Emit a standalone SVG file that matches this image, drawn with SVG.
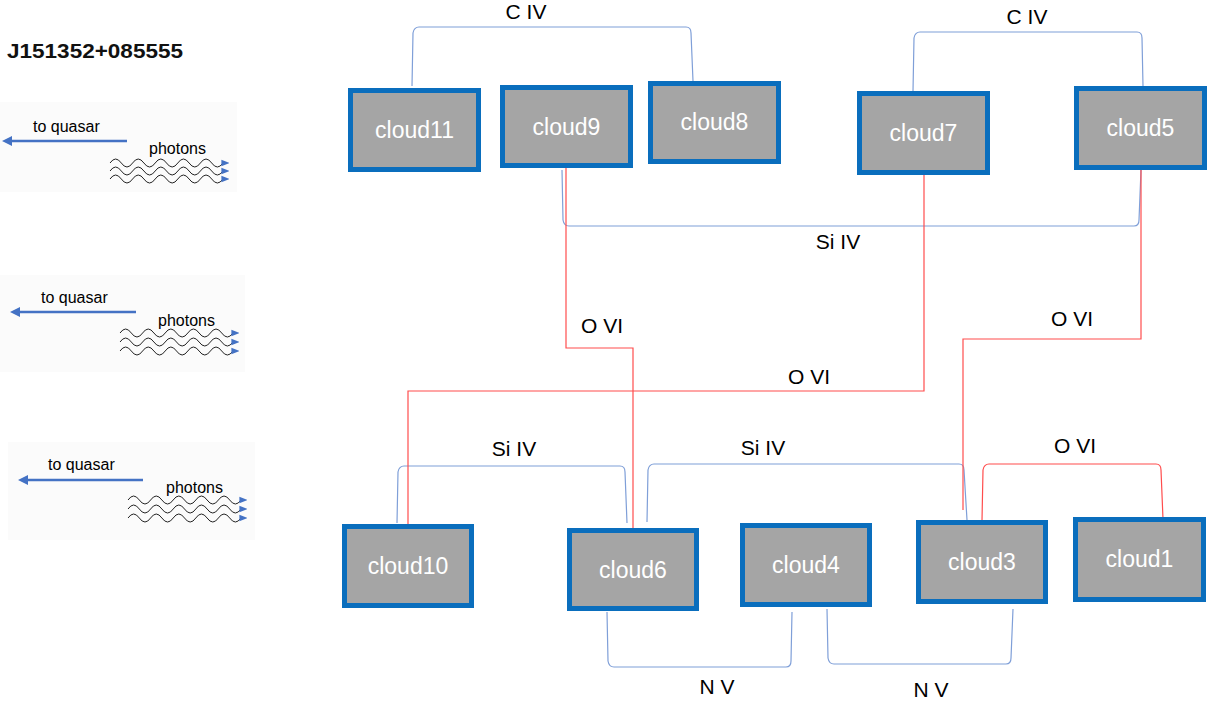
<svg xmlns="http://www.w3.org/2000/svg" width="1218" height="705" viewBox="0 0 1218 705">
  <style>
    .box { fill: #a5a5a5; stroke: #0a6ebd; stroke-width: 5; }
    .name { font-family: "Liberation Sans", Arial, sans-serif; font-size: 23px; fill: #ffffff; text-anchor: middle; }
    .ion { font-family: "Liberation Sans", Arial, sans-serif; font-size: 21px; fill: #000000; text-anchor: middle; }
    .small { font-family: "Liberation Sans", Arial, sans-serif; font-size: 16px; fill: #000000; }
    .blue { fill: none; stroke: #7f9fd8; stroke-width: 1.2; }
    .red { fill: none; stroke: #ff4d4d; stroke-width: 1.2; }
    .wave { fill: none; stroke: #222222; stroke-width: 1; }
    .panel { fill: #fbfbfb; }
    .toq { stroke: #4472c4; stroke-width: 2.5; marker-end: url(#leftHead); }
  </style>
  <defs>
    <marker id="leftHead" viewBox="0 0 10 10" refX="2" refY="5" markerWidth="4" markerHeight="4" orient="auto" markerUnits="strokeWidth">
      <path d="M0,0 L10,5 L0,10 Z" fill="#4472c4"/>
    </marker>
    <marker id="waveHead" viewBox="0 0 10 10" refX="2" refY="5" markerWidth="8" markerHeight="8" orient="0" markerUnits="userSpaceOnUse">
      <path d="M0,1 L10,5 L0,9 Z" fill="#4472c4"/>
    </marker>
    <!-- one photon wave, five periods -->
    <path id="wave" d="M0,0 q5.6,-8 11.3,0 t11.3,0 t11.3,0 t11.3,0 t11.3,0 t11.3,0 t11.3,0 t11.3,0 t11.3,0 t11.3,0" class="wave" marker-end="url(#waveHead)"/>
  </defs>

  <rect width="1218" height="705" fill="#ffffff"/>

  <!-- title -->
  <text x="7" y="58" font-family="'Liberation Sans', Arial, sans-serif" font-size="21" font-weight="bold" fill="#111111" textLength="176" lengthAdjust="spacingAndGlyphs">J151352+085555</text>

  <!-- sight-line legends -->
  <g id="legend1">
    <rect class="panel" x="0" y="102" width="237" height="90"/>
    <text class="small" x="33" y="132">to quasar</text>
    <line class="toq" x1="127" y1="141" x2="10" y2="141"/>
    <text class="small" x="149" y="154">photons</text>
    <use href="#wave" x="110" y="163"/>
    <use href="#wave" x="110" y="171"/>
    <use href="#wave" x="110" y="179"/>
  </g>
  <g id="legend2">
    <rect class="panel" x="0" y="275" width="245" height="97"/>
    <text class="small" x="41" y="303">to quasar</text>
    <line class="toq" x1="136" y1="312" x2="18" y2="312"/>
    <text class="small" x="158" y="326">photons</text>
    <use href="#wave" x="120" y="333"/>
    <use href="#wave" x="120" y="342"/>
    <use href="#wave" x="120" y="351"/>
  </g>
  <g id="legend3">
    <rect class="panel" x="8" y="442" width="247" height="98"/>
    <text class="small" x="48" y="470">to quasar</text>
    <line class="toq" x1="143" y1="480" x2="26" y2="480"/>
    <text class="small" x="166" y="493">photons</text>
    <use href="#wave" x="128" y="500"/>
    <use href="#wave" x="128" y="509"/>
    <use href="#wave" x="128" y="518"/>
  </g>

  <!-- connectors -->
  <g id="connectors">
    <path class="blue" d="M412,86 L413,33 Q414,27 419,27 H686 Q691,27 691,33 L693,81"/>
    <path class="blue" d="M913,91 L914,38 Q915,32 920,32 H1137 Q1142,32 1142,38 L1143,86"/>
    <path class="blue" d="M562,170 L563,220 Q564,226 569,226 H1134 Q1139,226 1139,220 L1141,170"/>
    <path class="blue" d="M397,523 L398,472 Q399,466 404,466 H620 Q625,466 625,472 L627,523"/>
    <path class="blue" d="M647,522 L648,470 Q649,464 654,464 H959 Q964,464 964,470 L967,520"/>
    <path class="blue" d="M607,612 L608,661 Q609,667 614,667 H786 Q791,667 791,661 L792,612"/>
    <path class="blue" d="M827,609 L828,658 Q829,664 834,664 H1006 Q1011,664 1011,658 L1013,609"/>
    <path class="red" d="M982,521 L983,470 Q984,464 989,464 H1156 Q1161,464 1161,470 L1163,519"/>
    <path class="red" d="M566,168 V348 H633 V529"/>
    <path class="red" d="M924,175 V391 H408 V524"/>
    <path class="red" d="M1141,170 V339 H963 V510"/>

    <text class="ion" x="526" y="19">C IV</text>
    <text class="ion" x="1027" y="24">C IV</text>
    <text class="ion" x="838" y="249">Si IV</text>
    <text class="ion" x="602" y="333">O VI</text>
    <text class="ion" x="809" y="384">O VI</text>
    <text class="ion" x="1072" y="326">O VI</text>
    <text class="ion" x="514" y="456">Si IV</text>
    <text class="ion" x="763" y="455">Si IV</text>
    <text class="ion" x="1075" y="453">O VI</text>
    <text class="ion" x="717" y="694">N V</text>
    <text class="ion" x="931" y="697">N V</text>
  </g>

  <!-- clouds -->
  <g id="cloud11"><rect class="box" x="350.5" y="90.5" width="128" height="79"/><text class="name" x="414.5" y="138">cloud11</text></g>
  <g id="cloud9"><rect class="box" x="502.5" y="87.5" width="128" height="78"/><text class="name" x="566.5" y="135">cloud9</text></g>
  <g id="cloud8"><rect class="box" x="650.5" y="83.5" width="128" height="78"/><text class="name" x="714.5" y="130">cloud8</text></g>
  <g id="cloud7"><rect class="box" x="859.5" y="93.5" width="128" height="79"/><text class="name" x="923.5" y="141">cloud7</text></g>
  <g id="cloud5"><rect class="box" x="1076.5" y="88.5" width="128" height="79"/><text class="name" x="1140.5" y="136">cloud5</text></g>
  <g id="cloud10"><rect class="box" x="344.5" y="526.5" width="127" height="79"/><text class="name" x="408" y="574">cloud10</text></g>
  <g id="cloud6"><rect class="box" x="569.5" y="530.5" width="127" height="78"/><text class="name" x="633" y="578">cloud6</text></g>
  <g id="cloud4"><rect class="box" x="742.5" y="525.5" width="127" height="79"/><text class="name" x="806" y="573">cloud4</text></g>
  <g id="cloud3"><rect class="box" x="918.5" y="522.5" width="127" height="79"/><text class="name" x="982" y="570">cloud3</text></g>
  <g id="cloud1"><rect class="box" x="1075.5" y="519.5" width="128" height="80"/><text class="name" x="1139.5" y="567">cloud1</text></g>
</svg>
